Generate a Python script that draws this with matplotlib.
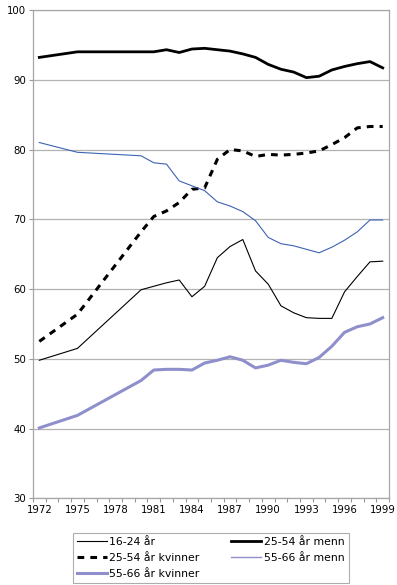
import numpy as np
import matplotlib.pyplot as plt
from matplotlib.lines import Line2D
from matplotlib.ticker import FixedLocator

nan = np.nan

years = np.arange(1972, 2000)
tick_years = [1972, 1975, 1978, 1981, 1984, 1987, 1990, 1993, 1996, 1999]

# years without data are left as nan (line is drawn across the gap)
age_16_24 = [49.8, nan, nan, 51.5, nan, nan, nan, nan, 59.9, 60.4, 60.9, 61.3, 58.9, 60.4,
             64.5, 66.1, 67.1, 62.6, 60.7, 57.6, 56.6, 55.9, 55.8, 55.8, 59.6, 61.8, 63.9, 64.0]
men_25_54 = [93.2, nan, nan, 94.0, nan, nan, nan, nan, 94.0, 94.0, 94.3, 93.9, 94.4, 94.5,
             94.3, 94.1, 93.7, 93.2, 92.2, 91.5, 91.1, 90.3, 90.5, 91.4, 91.9, 92.3, 92.6, 91.7]
women_25_54 = [52.5, nan, nan, 56.4, nan, nan, nan, nan, 68.2, 70.4, 71.2, 72.4, 74.3, 74.5,
               78.6, 80.0, 79.8, 79.0, 79.3, 79.2, 79.3, 79.5, 79.8, 80.7, 81.7, 83.1, 83.3, 83.3]
men_55_66 = [81.0, nan, nan, 79.6, nan, nan, nan, nan, 79.1, 78.1, 77.9, 75.5, 74.8, 74.1,
             72.5, 71.9, 71.1, 69.8, 67.4, 66.5, 66.2, 65.7, 65.2, 66.0, 67.0, 68.2, 69.9, 69.9]
women_55_66 = [40.1, nan, nan, 41.9, nan, nan, nan, nan, 46.9, 48.4, 48.5, 48.5, 48.4, 49.4,
               49.8, 50.3, 49.8, 48.7, 49.1, 49.8, 49.5, 49.3, 50.2, 51.8, 53.8, 54.6, 55.0, 55.9]

blue = '#3d62b3'
lilac = '#8f8fcc'
grid_col = '#b3b3b3'

fig = plt.figure(figsize=(3.97, 5.85), dpi=100)
ax = fig.add_axes([0.083, 0.148, 0.897, 0.835])

x = np.arange(len(years))


def draw(vals, **kw):
    v = np.asarray(vals, dtype=float)
    m = ~np.isnan(v)
    return ax.plot(x[m], v[m], **kw)[0]


l1 = draw(age_16_24, color='black', lw=0.8)
l2 = draw(men_25_54, color='black', lw=2.0)
l3 = draw(women_25_54, color='black', lw=2.2, linestyle=(0, (2.2, 2.0)))
l4 = draw(men_55_66, color=blue, lw=0.8)
l5 = draw(women_55_66, color=lilac, lw=2.2)

ax.set_xlim(-0.5, len(years) - 0.5)
ax.set_ylim(30, 100)
ax.set_yticks(np.arange(30, 101, 10))
ax.yaxis.grid(True, color=grid_col, lw=0.9)
ax.set_axisbelow(True)

ax.set_xticks([list(years).index(y) for y in tick_years])
ax.set_xticklabels([str(y) for y in tick_years])
ax.xaxis.set_minor_locator(FixedLocator(np.arange(-0.5, len(years), 1)))
ax.tick_params(axis='x', which='major', length=0, labelsize=7.3, pad=5)
ax.tick_params(axis='x', which='minor', length=3, color='#999999', width=0.8)
ax.tick_params(axis='y', length=3, color='#999999', width=0.8, labelsize=7.3, pad=2)

for s in ax.spines.values():
    s.set_color('#a6a6a6')
    s.set_linewidth(0.9)

leg_55_66_menn = Line2D([], [], color=lilac, lw=1.0)
leg = fig.legend([l1, l3, l5, l2, leg_55_66_menn],
                 ['16-24 år', '25-54 år kvinner', '55-66 år kvinner',
                  '25-54 år menn', '55-66 år menn'],
                 ncol=2, loc='lower left', bbox_to_anchor=(0.183, 0.003),
                 fontsize=7.8, frameon=True, fancybox=False, handlelength=2.8,
                 handletextpad=0.2, columnspacing=2.9, labelspacing=0.55,
                 borderpad=0.4, borderaxespad=0)
leg.get_frame().set_edgecolor('#999999')
leg.get_frame().set_linewidth(0.8)

fig.savefig('out.png', dpi=100)
